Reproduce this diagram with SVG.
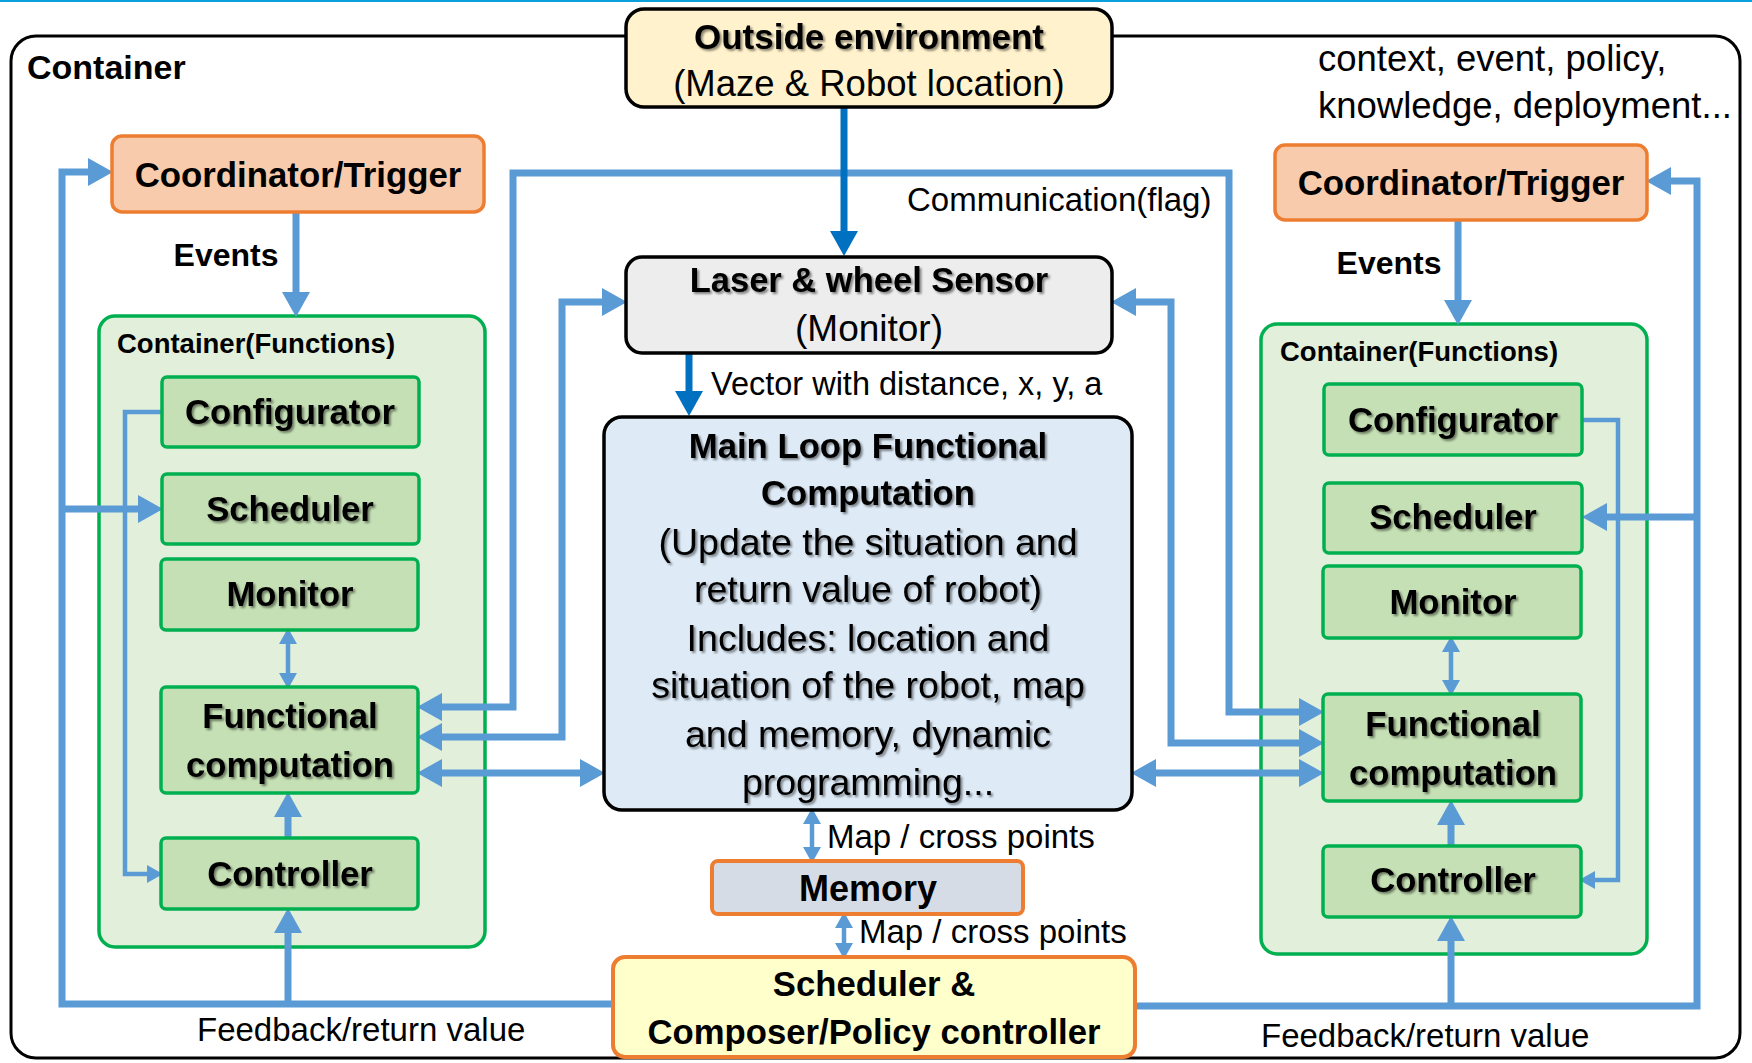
<svg xmlns="http://www.w3.org/2000/svg" width="1752" height="1063" viewBox="0 0 1752 1063">
<defs>
  <style>
    .t{font-family:"Liberation Sans",Arial,sans-serif;fill:#000;dominant-baseline:central}
    .b{font-weight:bold}
    .c{text-anchor:middle}
    .conn{fill:none;stroke:#5b9bd5;stroke-width:7;stroke-linejoin:miter}
    .thin{fill:none;stroke:#5b9bd5;stroke-width:4.5}
    .dark{fill:none;stroke:#0070c0;stroke-width:7}
    .coord{fill:#f8cbad;stroke:#ed7d31;stroke-width:3.5}
    .cont{fill:#e2efda;stroke:#00b050;stroke-width:3.5}
    .inner{fill:#c5e0b4;stroke:#00b050;stroke-width:3.5}
    .blk{stroke:#000;stroke-width:3.5}
  </style>
  <filter id="sh" x="-10%" y="-30%" width="120%" height="160%">
    <feDropShadow dx="2" dy="2" stdDeviation="1.2" flood-color="#000" flood-opacity="0.45"/>
  </filter>
  <marker id="ah" markerUnits="userSpaceOnUse" markerWidth="26" markerHeight="28" viewBox="0 0 26 28" refX="12" refY="14" orient="auto-start-reverse">
    <path d="M0,0 L25,14 L0,28 z" fill="#5b9bd5"/>
  </marker>
  <marker id="as" markerUnits="userSpaceOnUse" markerWidth="16" markerHeight="18" viewBox="0 0 16 18" refX="7" refY="9" orient="auto-start-reverse">
    <path d="M0,0 L16,9 L0,18 z" fill="#5b9bd5"/>
  </marker>
  <marker id="ad" markerUnits="userSpaceOnUse" markerWidth="26" markerHeight="28" viewBox="0 0 26 28" refX="12" refY="14" orient="auto-start-reverse">
    <path d="M0,0 L25,14 L0,28 z" fill="#0070c0"/>
  </marker>
</defs>

<rect x="0" y="0" width="1752" height="1063" fill="#fff"/>
<rect x="0" y="0" width="1752" height="2" fill="#0aa0dc"/>

<g id="container">
  <rect x="11" y="36" width="1729" height="1022" rx="25" fill="#fff" stroke="#000" stroke-width="3"/>
  <text class="t b" x="27" y="67" font-size="34">Container</text>
  <text class="t" x="1318" y="58" font-size="36.5">context, event, policy,</text>
  <text class="t" x="1318" y="105" font-size="36.5">knowledge, deployment...</text>
</g>

<g id="container-functions-left">
  <rect class="cont" x="99" y="316" width="386" height="631" rx="16"/>
  <text class="t b" x="117" y="343" font-size="27.5">Container(Functions)</text>
</g>
<g id="container-functions-right">
  <rect class="cont" x="1261" y="324" width="386" height="630" rx="16"/>
  <text class="t b" x="1280" y="351" font-size="27.5">Container(Functions)</text>
</g>

<g id="connectors">
  <!-- left feedback loop -->
  <path class="conn" d="M613,1004 H62 V172 H100" marker-end="url(#ah)"/>
  <path class="conn" d="M62,509 H150" marker-end="url(#ah)"/>
  <path class="conn" d="M288,1004 V921" marker-end="url(#ah)"/>
  <!-- right feedback loop -->
  <path class="conn" d="M1135,1006 H1697 V181 H1659" marker-end="url(#ah)"/>
  <path class="conn" d="M1697,517 H1595" marker-end="url(#ah)"/>
  <path class="conn" d="M1451,1006 V929" marker-end="url(#ah)"/>
  <!-- events -->
  <path class="conn" d="M296,212 V304" marker-end="url(#ah)"/>
  <path class="conn" d="M1458,220 V312" marker-end="url(#ah)"/>
  <!-- controller to functional computation -->
  <path class="conn" d="M288,838 V805" marker-end="url(#ah)"/>
  <path class="conn" d="M1451,846 V813" marker-end="url(#ah)"/>
  <!-- monitor <-> functional computation -->
  <path class="thin" d="M288,637 V680" marker-start="url(#as)" marker-end="url(#as)"/>
  <path class="thin" d="M1451,645 V687" marker-start="url(#as)" marker-end="url(#as)"/>
  <!-- configurator to controller -->
  <path class="thin" d="M162,412 H125 V874 H154" marker-end="url(#as)"/>
  <path class="thin" d="M1583,420 H1618 V880 H1588" marker-end="url(#as)"/>
  <!-- communication flag -->
  <path class="conn" d="M430,707 H513 V173 H1229 V712 H1311" marker-start="url(#ah)" marker-end="url(#ah)"/>
  <!-- laser sensor links -->
  <path class="conn" d="M430,737 H562 V302 H614" marker-start="url(#ah)" marker-end="url(#ah)"/>
  <path class="conn" d="M1124,302 H1171 V743 H1311" marker-start="url(#ah)" marker-end="url(#ah)"/>
  <!-- main loop links -->
  <path class="conn" d="M430,773 H592" marker-start="url(#ah)" marker-end="url(#ah)"/>
  <path class="conn" d="M1144,773 H1311" marker-start="url(#ah)" marker-end="url(#ah)"/>
  <!-- memory links -->
  <path class="thin" d="M812,817 V854" marker-start="url(#as)" marker-end="url(#as)"/>
  <path class="thin" d="M844,921 V950" marker-start="url(#as)" marker-end="url(#as)"/>
  <!-- dark blue -->
  <path class="dark" d="M844,107 V243" marker-end="url(#ad)"/>
  <path class="dark" d="M689,353 V403" marker-end="url(#ad)"/>
  <!-- labels -->
  <text class="t" x="907" y="199" font-size="33">Communication(flag)</text>
  <text class="t" x="711" y="384" font-size="32.5">Vector with distance, x, y, a</text>
  <text class="t" x="827" y="836" font-size="33">Map / cross points</text>
  <text class="t" x="859" y="931" font-size="33">Map / cross points</text>
  <text class="t" x="197" y="1029" font-size="33">Feedback/return value</text>
  <text class="t" x="1261" y="1035" font-size="33">Feedback/return value</text>
  <text class="t b c" x="226" y="255" font-size="32">Events</text>
  <text class="t b c" x="1389" y="263" font-size="32">Events</text>
</g>

<g id="outside-environment">
  <rect x="626" y="9" width="486" height="98" rx="18" fill="#fff2cc" class="blk"/>
  <text class="t b c" x="869" y="36" font-size="35" filter="url(#sh)">Outside environment</text>
  <text class="t c" x="869" y="83" font-size="36.5">(Maze &amp; Robot location)</text>
</g>

<g id="laser-sensor">
  <rect x="626" y="257" width="486" height="96" rx="16" fill="#ededed" class="blk"/>
  <text class="t b c" x="869" y="280" font-size="34.5" filter="url(#sh)">Laser &amp; wheel Sensor</text>
  <text class="t c" x="869" y="328" font-size="37">(Monitor)</text>
</g>

<g id="main-loop">
  <rect x="604" y="417" width="528" height="393" rx="18" fill="#deebf7" class="blk"/>
  <g filter="url(#sh)">
    <text class="t b c" x="868" y="446" font-size="34.7">Main Loop Functional</text>
    <text class="t b c" x="868" y="493" font-size="34.7">Computation</text>
    <text class="t c" x="868" y="542" font-size="37.5">(Update the situation and</text>
    <text class="t c" x="868" y="589" font-size="37.5">return value of robot)</text>
    <text class="t c" x="868" y="638" font-size="37.5">Includes: location and</text>
    <text class="t c" x="868" y="685" font-size="37.5">situation of the robot, map</text>
    <text class="t c" x="868" y="734" font-size="37.5">and memory, dynamic</text>
    <text class="t c" x="868" y="782" font-size="37.5">programming...</text>
  </g>
</g>

<g id="memory">
  <rect x="712" y="861" width="311" height="53" rx="6" fill="#d6dce5" stroke="#ed7d31" stroke-width="4"/>
  <text class="t b c" x="868" y="888" font-size="36">Memory</text>
</g>

<g id="scheduler-composer">
  <rect x="613" y="957" width="522" height="100" rx="12" fill="#ffffcc" stroke="#ed7d31" stroke-width="4"/>
  <text class="t b c" x="874" y="984" font-size="34.7">Scheduler &amp;</text>
  <text class="t b c" x="874" y="1032" font-size="34.7">Composer/Policy controller</text>
</g>

<g id="coordinator-left">
  <rect class="coord" x="112" y="136" width="372" height="76" rx="10"/>
  <text class="t b c" x="298" y="174" font-size="34.8">Coordinator/Trigger</text>
</g>
<g id="coordinator-right">
  <rect class="coord" x="1275" y="145" width="372" height="75" rx="10"/>
  <text class="t b c" x="1461" y="182" font-size="34.8">Coordinator/Trigger</text>
</g>

<g id="left-configurator">
  <rect class="inner" x="162" y="377" width="257" height="70" rx="5"/>
  <text class="t b c" x="290" y="412" font-size="34.7" filter="url(#sh)">Configurator</text>
</g>
<g id="left-scheduler">
  <rect class="inner" x="162" y="474" width="257" height="70" rx="5"/>
  <text class="t b c" x="290" y="509" font-size="34.7" filter="url(#sh)">Scheduler</text>
</g>
<g id="left-monitor">
  <rect class="inner" x="161" y="559" width="257" height="71" rx="5"/>
  <text class="t b c" x="290" y="594" font-size="34.7" filter="url(#sh)">Monitor</text>
</g>
<g id="left-functional">
  <rect class="inner" x="161" y="687" width="257" height="106" rx="5"/>
  <text class="t b c" x="290" y="716" font-size="34.7" filter="url(#sh)">Functional</text>
  <text class="t b c" x="290" y="765" font-size="34.7" filter="url(#sh)">computation</text>
</g>
<g id="left-controller">
  <rect class="inner" x="161" y="838" width="257" height="71" rx="5"/>
  <text class="t b c" x="290" y="874" font-size="34.7" filter="url(#sh)">Controller</text>
</g>

<g id="right-configurator">
  <rect class="inner" x="1324" y="384" width="258" height="71" rx="5"/>
  <text class="t b c" x="1453" y="420" font-size="34.7" filter="url(#sh)">Configurator</text>
</g>
<g id="right-scheduler">
  <rect class="inner" x="1324" y="483" width="258" height="70" rx="5"/>
  <text class="t b c" x="1453" y="517" font-size="34.7" filter="url(#sh)">Scheduler</text>
</g>
<g id="right-monitor">
  <rect class="inner" x="1323" y="566" width="258" height="72" rx="5"/>
  <text class="t b c" x="1453" y="602" font-size="34.7" filter="url(#sh)">Monitor</text>
</g>
<g id="right-functional">
  <rect class="inner" x="1323" y="694" width="258" height="107" rx="5"/>
  <text class="t b c" x="1453" y="724" font-size="34.7" filter="url(#sh)">Functional</text>
  <text class="t b c" x="1453" y="773" font-size="34.7" filter="url(#sh)">computation</text>
</g>
<g id="right-controller">
  <rect class="inner" x="1323" y="846" width="258" height="71" rx="5"/>
  <text class="t b c" x="1453" y="880" font-size="34.7" filter="url(#sh)">Controller</text>
</g>
</svg>
